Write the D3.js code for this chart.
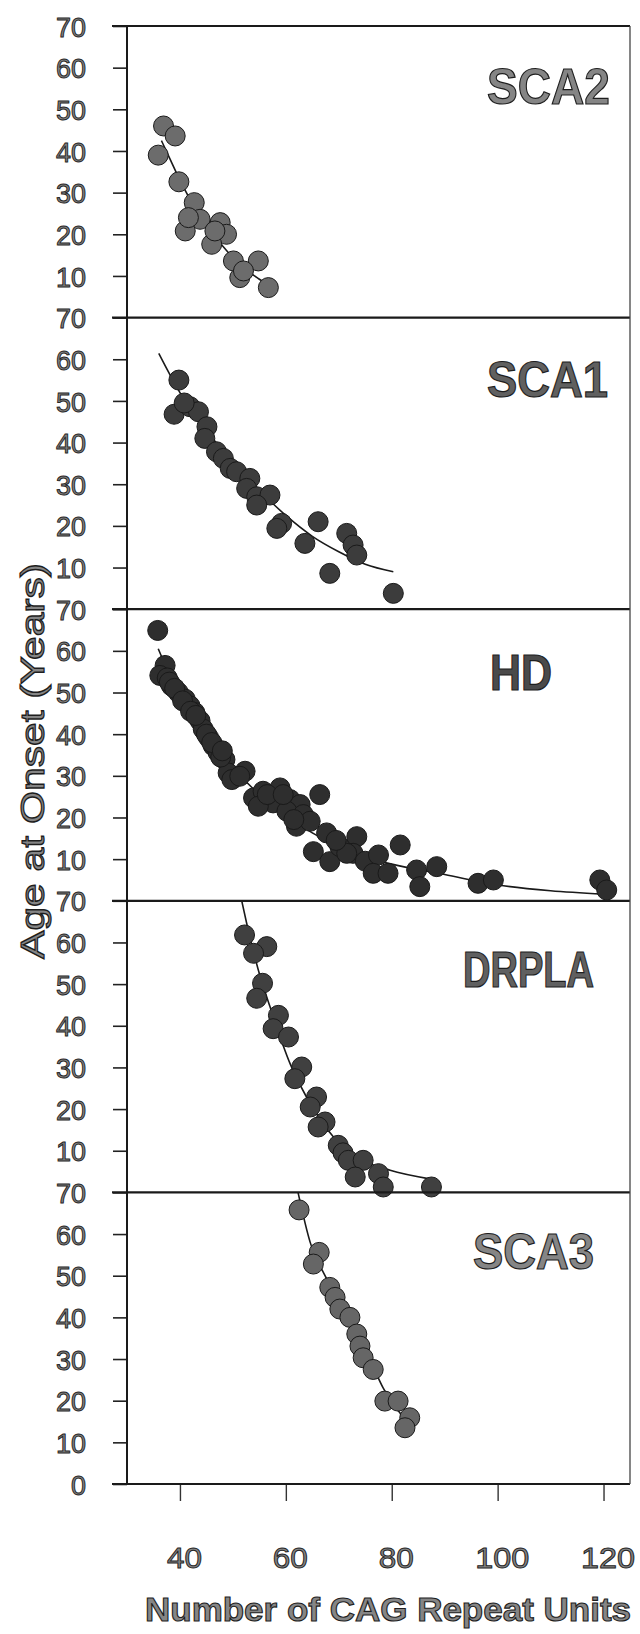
<!DOCTYPE html>
<html><head><meta charset="utf-8">
<script src="https://cdn.jsdelivr.net/npm/d3@7"></script>
<style>body{margin:0;background:#fff}svg{display:block}</style>
</head><body>
<svg id="chart" width="640" height="1634"></svg>
<script>
// ---------- data ----------
const xTicks = [40, 60, 80, 100, 120];
const yTicks = [10, 20, 30, 40, 50, 60, 70];
const panelNames = ["SCA2", "SCA1", "HD", "DRPLA", "SCA3"];
const xTitle = "Number of CAG Repeat Units";
const yTitle = "Age at Onset (Years)";

const sca2Repeats = [36.9, 39.1, 35.9, 39.8, 42.7, 43.8, 41.0, 41.6, 47.6, 48.8, 46.0, 46.6, 50.1, 51.3, 54.8, 56.7, 52.0];
const sca2Onset   = [46.0, 43.6, 39.0, 32.6, 27.6, 23.6, 20.8, 24.0, 22.8, 20.0, 17.6, 20.8, 13.6, 9.6, 13.6, 7.2, 11.2];
const sca2FitRepeats = [36.5, 38, 40, 43, 46, 49, 52, 55, 57];
const sca2FitOnset   = [42.5, 38.4, 33, 26, 20.5, 15.8, 12, 9.2, 7.5];

const sca1Repeats = [39.8, 38.9, 41.9, 43.5, 40.8, 45.1, 44.7, 46.9, 48.2, 49.5, 50.7, 53.2, 52.6, 54.5, 57.0, 54.5, 59.2, 58.3, 63.6, 66.1, 68.3, 71.5, 72.7, 73.4, 80.3];
const sca1Onset   = [55.0, 46.8, 48.6, 47.4, 49.5, 43.8, 41.0, 37.8, 36.2, 33.8, 33.0, 31.4, 29.0, 27.0, 27.4, 25.0, 20.6, 19.4, 15.8, 21.0, 8.6, 18.2, 15.4, 13.0, 3.8];
const sca1FitRepeats = [36, 40, 45, 50, 55, 60, 65, 70, 75, 80.3];
const sca1FitOnset   = [61.4, 52, 43, 35, 28.5, 22.5, 17.5, 13.8, 10.8, 9];

const hdRepeats = [35.8, 37.2, 36.2, 37.6, 38.4, 39.7, 41.0, 41.9, 42.8, 43.8, 44.4, 45.4, 46.3, 47.2, 48.5, 49.1, 49.8, 52.3, 51.3,
                   38.0, 39.0, 40.5, 42.0, 43.0, 45.0, 46.0, 47.7, 48.0,
                   53.9, 55.7, 58.9, 57.6, 60.8, 62.7, 60.2, 63.3, 62.0, 64.6, 66.4, 54.8, 56.5, 59.5, 61.5, 67.7, 65.2, 68.3, 70.2,
                   73.4, 72.7, 71.5, 69.5, 75.0, 77.5, 76.5, 79.3, 81.6, 84.7, 85.3, 88.5, 96.3, 99.2, 119.3, 120.6];
const hdOnset   = [64.9, 56.5, 54.1, 53.5, 51.6, 50.0, 48.4, 46.8, 45.2, 43.2, 41.2, 39.2, 37.2, 35.6, 33.9, 30.7, 29.1, 31.1, 29.9,
                   52.5, 51.0, 48.0, 45.5, 44.5, 40.0, 38.0, 34.5, 36.0,
                   24.7, 26.3, 27.1, 23.5, 24.3, 23.1, 21.5, 20.7, 17.9, 19.1, 25.5, 22.7, 25.5, 25.5, 19.5, 16.3, 11.8, 9.4, 13.0,
                   15.4, 11.4, 11.4, 14.5, 9.5, 11.0, 6.6, 6.6, 13.4, 7.4, 3.4, 8.2, 4.2, 5.0, 5.0, 2.6];
const hdFitRepeats = [35.9, 40, 45, 50, 55, 60, 65, 70, 75, 80, 90, 100, 110, 120];
const hdFitOnset   = [60.5, 49, 40, 32, 25.5, 20.5, 16.3, 13, 10.6, 8.8, 6.3, 3.8, 2.4, 1.6];

const drplaRepeats = [52.2, 56.4, 53.9, 55.6, 54.5, 58.6, 57.6, 60.5, 63.0, 61.7, 65.8, 64.6, 67.4, 66.1, 69.9, 70.8, 71.8, 74.6, 73.1, 77.5, 78.4, 87.5];
const drplaOnset   = [61.8, 59.0, 57.4, 50.2, 46.6, 42.5, 39.3, 37.3, 30.1, 27.3, 22.9, 20.5, 16.9, 15.7, 11.3, 9.5, 7.7, 7.7, 3.7, 4.5, 1.3, 1.3];
const drplaFitRepeats = [51.7, 52.6, 54.8, 57, 60.8, 63.9, 69, 74.6, 79.7, 86.9];
const drplaFitOnset   = [69.8, 64.6, 53.4, 44.6, 30.9, 22.9, 13.3, 7.7, 5.3, 3.3];

const sca3Repeats = [62.5, 66.3, 65.2, 68.3, 69.3, 70.2, 72.1, 73.4, 74.0, 74.6, 76.5, 78.7, 81.2, 83.4, 82.5];
const sca3Onset   = [65.8, 55.6, 52.8, 47.2, 44.8, 42.0, 40.0, 36.0, 33.1, 30.3, 27.5, 19.9, 19.9, 15.9, 13.5];
const sca3FitRepeats = [62.3, 64.6, 67.4, 70, 73, 76, 78.4, 81, 83.5];
const sca3FitOnset   = [70, 58, 50, 44, 37, 29.5, 23, 18, 14];

// ---------- build ----------
const zip = (a, b) => a.map((v, i) => [v, b[i]]);
const panels = [
  {name: panelNames[0], pts: zip(sca2Repeats, sca2Onset), fit: zip(sca2FitRepeats, sca2FitOnset), fill: "#6c6c6c", lab: {x: 487, base: 78, w: 123, fill: "#858585"}},
  {name: panelNames[1], pts: zip(sca1Repeats, sca1Onset), fit: zip(sca1FitRepeats, sca1FitOnset), fill: "#3c3c3c", lab: {x: 487, base: 79, w: 121, fill: "#606060"}},
  {name: panelNames[2], pts: zip(hdRepeats, hdOnset), fit: zip(hdFitRepeats, hdFitOnset), fill: "#2e2e2e", lab: {x: 490, base: 81, w: 62, fill: "#4a4a4a"}},
  {name: panelNames[3], pts: zip(drplaRepeats, drplaOnset), fit: zip(drplaFitRepeats, drplaFitOnset), fill: "#404040", lab: {x: 463, base: 86, w: 131, fill: "#606060"}},
  {name: panelNames[4], pts: zip(sca3Repeats, sca3Onset), fit: zip(sca3FitRepeats, sca3FitOnset), fill: "#666666", lab: {x: 473, base: 77, w: 121, fill: "#858585"}}
];

const svg = d3.select("#chart");
const L = 127, R = 630, TOP = 26, PH = 291.6;
const x = d3.scaleLinear().domain([30, 125]).range([L, R]);
const font = "'Liberation Sans', Arial, Helvetica, sans-serif";

const gLines = svg.append("g");
const gPts = svg.append("g");
const gFrame = svg.append("g");
const gText = svg.append("g");

panels.forEach((p, i) => {
  const y0 = TOP + PH * i;
  const y = d3.scaleLinear().domain([0, 70]).range([y0 + PH, y0]);
  const line = d3.line().x(d => x(d[0])).y(d => y(d[1])).curve(d3.curveMonotoneX);
  gLines.append("path").datum(p.fit).attr("d", line)
    .attr("fill", "none").attr("stroke", "#1a1a1a").attr("stroke-width", 1.6);
  gPts.selectAll(null).data(p.pts).enter().append("circle")
    .attr("cx", d => x(d[0])).attr("cy", d => y(d[1])).attr("r", 10)
    .attr("fill", p.fill).attr("stroke", "#1a1a1a").attr("stroke-width", 1);
  const ax = d3.axisLeft(y).tickValues(i === 4 ? [0].concat(yTicks) : yTicks).tickSize(14).tickPadding(27);
  const g = gFrame.append("g").attr("transform", `translate(${L},0)`).call(ax);
  g.select(".domain").remove();
  g.selectAll(".tick line").attr("stroke", "#222").attr("stroke-width", 1.6);
  g.selectAll(".tick text")
    .attr("font-family", font).attr("font-size", 28)
    .attr("fill", "#858585").attr("stroke", "#262626").attr("stroke-width", 1)
    .attr("textLength", d => d === 0 ? 15 : 30).attr("lengthAdjust", "spacingAndGlyphs")
    .attr("dy", "0.36em");
  gFrame.append("line").attr("x1", 112).attr("x2", R).attr("y1", y0).attr("y2", y0)
    .attr("stroke", "#1a1a1a").attr("stroke-width", 2.2);
  gText.append("text").attr("x", p.lab.x).attr("y", y0 + p.lab.base)
    .attr("font-family", font).attr("font-weight", "bold").attr("font-size", 50)
    .attr("textLength", p.lab.w).attr("lengthAdjust", "spacingAndGlyphs")
    .attr("fill", p.lab.fill).attr("stroke", "#1e1e1e").attr("stroke-width", 1.2)
    .text(p.name);
});

const BOT = TOP + PH * 5;
const xa = d3.axisBottom(x).tickValues(xTicks).tickSize(17).tickPadding(40);
const gx = gFrame.append("g").attr("transform", `translate(0,${BOT})`).call(xa);
gx.select(".domain").remove();
gx.selectAll(".tick line").attr("stroke", "#333").attr("stroke-width", 1.4);
gx.selectAll(".tick text")
  .attr("font-family", font).attr("font-size", 30)
  .attr("fill", "#858585").attr("stroke", "#262626").attr("stroke-width", 1)
  .attr("textLength", d => d >= 100 ? 54 : 35).attr("lengthAdjust", "spacingAndGlyphs")
  .attr("y", 84).attr("dy", 0).attr("dx", 4);
gFrame.append("line").attr("x1", 112).attr("x2", R).attr("y1", BOT).attr("y2", BOT)
  .attr("stroke", "#1a1a1a").attr("stroke-width", 2.2);
gFrame.append("line").attr("x1", L).attr("x2", L).attr("y1", TOP).attr("y2", BOT)
  .attr("stroke", "#1a1a1a").attr("stroke-width", 2);
gFrame.append("line").attr("x1", R).attr("x2", R).attr("y1", TOP).attr("y2", BOT)
  .attr("stroke", "#444").attr("stroke-width", 1.3);

gText.append("text").attr("x", 388).attr("y", 1621).attr("text-anchor", "middle")
  .attr("font-family", font).attr("font-weight", "bold").attr("font-size", 34)
  .attr("textLength", 486).attr("lengthAdjust", "spacingAndGlyphs")
  .attr("fill", "#858585").attr("stroke", "#1e1e1e").attr("stroke-width", 1.1)
  .text(xTitle);
gText.append("text").attr("transform", "translate(44,761) rotate(-90)").attr("text-anchor", "middle")
  .attr("font-family", font).attr("font-size", 34)
  .attr("textLength", 396).attr("lengthAdjust", "spacingAndGlyphs")
  .attr("fill", "#858585").attr("stroke", "#1e1e1e").attr("stroke-width", 1.2)
  .text(yTitle);
</script>
</body></html>
